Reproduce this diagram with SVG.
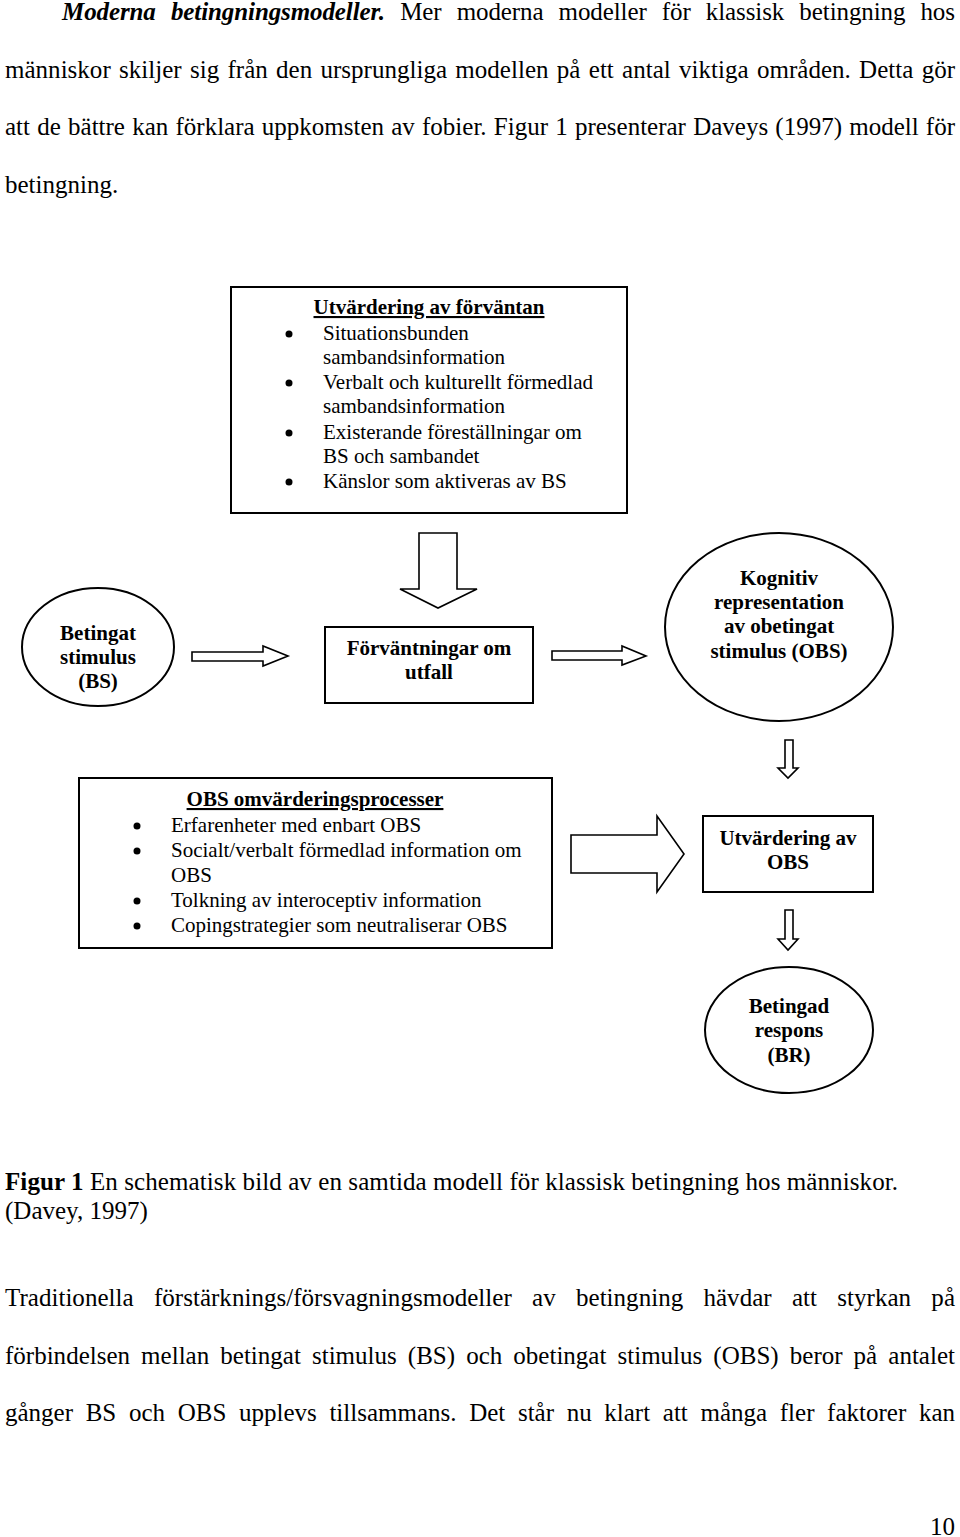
<svg xmlns="http://www.w3.org/2000/svg" width="960" height="1537" viewBox="0 0 960 1537">
<style>
  text { font-family: "Liberation Serif", "Times New Roman", serif; fill: #000; }
  .body { font-size: 25px; }
  .lbl { font-size: 21px; font-weight: bold; text-anchor: middle; }
  .item { font-size: 21px; }
  .ttl { font-size: 21px; font-weight: bold; text-anchor: middle; text-decoration: underline; }
  .shape { fill: #fff; stroke: #000; stroke-width: 2; }
  .arrow { fill: #fff; stroke: #000; stroke-width: 1.6; stroke-linejoin: miter; }
  .dot { fill: #000; }
</style>
<rect x="0" y="0" width="960" height="1537" fill="#fff"/>

<!-- Top paragraph -->
<g id="para-top">
  <text class="body" x="62" y="20" textLength="893" lengthAdjust="spacing" word-spacing="9"><tspan font-weight="bold" font-style="italic">Moderna betingningsmodeller.</tspan> Mer moderna modeller för klassisk betingning hos</text>
  <text class="body" x="5" y="78" textLength="950" lengthAdjust="spacing" word-spacing="2">människor skiljer sig från den ursprungliga modellen på ett antal viktiga områden. Detta gör</text>
  <text class="body" x="5" y="135" textLength="950" lengthAdjust="spacing" word-spacing="1">att de bättre kan förklara uppkomsten av fobier. Figur 1 presenterar Daveys (1997) modell för</text>
  <text class="body" x="5" y="193">betingning.</text>
</g>

<!-- Nodes -->
<g id="node-utvardering-forvantan">
  <rect class="shape" x="231" y="287" width="396" height="226"/>
  <text class="ttl" x="429" y="314">Utvärdering av förväntan</text>
  <circle class="dot" cx="289" cy="334" r="3.5"/>
  <text class="item" x="323" y="340">Situationsbunden</text>
  <text class="item" x="323" y="364">sambandsinformation</text>
  <circle class="dot" cx="289" cy="383" r="3.5"/>
  <text class="item" x="323" y="389">Verbalt och kulturellt förmedlad</text>
  <text class="item" x="323" y="413">sambandsinformation</text>
  <circle class="dot" cx="289" cy="433" r="3.5"/>
  <text class="item" x="323" y="439">Existerande föreställningar om</text>
  <text class="item" x="323" y="463">BS och sambandet</text>
  <circle class="dot" cx="289" cy="482" r="3.5"/>
  <text class="item" x="323" y="488">Känslor som aktiveras av BS</text>
</g>

<g id="node-betingat-stimulus">
  <ellipse class="shape" cx="98" cy="647" rx="76" ry="59"/>
  <text class="lbl" x="98" y="640">Betingat</text>
  <text class="lbl" x="98" y="664">stimulus</text>
  <text class="lbl" x="98" y="688">(BS)</text>
</g>

<g id="node-forvantningar">
  <rect class="shape" x="325" y="627" width="208" height="76"/>
  <text class="lbl" x="429" y="655">Förväntningar om</text>
  <text class="lbl" x="429" y="679">utfall</text>
</g>

<g id="node-kognitiv">
  <ellipse class="shape" cx="779" cy="627" rx="114" ry="94"/>
  <text class="lbl" x="779" y="585">Kognitiv</text>
  <text class="lbl" x="779" y="609">representation</text>
  <text class="lbl" x="779" y="633">av obetingat</text>
  <text class="lbl" x="779" y="658">stimulus (OBS)</text>
</g>

<g id="node-obs-omvardering">
  <rect class="shape" x="79" y="778" width="473" height="170"/>
  <text class="ttl" x="315" y="806">OBS omvärderingsprocesser</text>
  <circle class="dot" cx="137" cy="826" r="3.5"/>
  <text class="item" x="171" y="832">Erfarenheter med enbart OBS</text>
  <circle class="dot" cx="137" cy="851" r="3.5"/>
  <text class="item" x="171" y="857">Socialt/verbalt förmedlad information om</text>
  <text class="item" x="171" y="882">OBS</text>
  <circle class="dot" cx="137" cy="901" r="3.5"/>
  <text class="item" x="171" y="907">Tolkning av interoceptiv information</text>
  <circle class="dot" cx="137" cy="926" r="3.5"/>
  <text class="item" x="171" y="932">Copingstrategier som neutraliserar OBS</text>
</g>

<g id="node-utvardering-obs">
  <rect class="shape" x="703" y="816" width="170" height="76"/>
  <text class="lbl" x="788" y="845">Utvärdering av</text>
  <text class="lbl" x="788" y="869">OBS</text>
</g>

<g id="node-betingad-respons">
  <ellipse class="shape" cx="789" cy="1030" rx="84" ry="63"/>
  <text class="lbl" x="789" y="1013">Betingad</text>
  <text class="lbl" x="789" y="1037">respons</text>
  <text class="lbl" x="789" y="1062">(BR)</text>
</g>

<!-- Connectors -->
<g id="connectors">
  <polygon class="arrow" points="419,533 457,533 457,589 477,589 438,608 400,589 419,589"/>
  <polygon class="arrow" points="192,652 263,652 263,646 288,656 263,666 263,661 192,661"/>
  <polygon class="arrow" points="552,651 622,651 622,646 646,656 622,665 622,660 552,660"/>
  <polygon class="arrow" points="785,740 793,740 793,768 798,768 788,778 778,768 785,768"/>
  <polygon class="arrow" points="571,835 657,835 657,816 684,854 657,892 657,873 571,873"/>
  <polygon class="arrow" points="785,910 793,910 793,939 798,939 788,950 778,939 785,939"/>
</g>

<!-- Caption -->
<g id="caption">
  <text class="body" x="5" y="1190" textLength="893" lengthAdjust="spacing"><tspan font-weight="bold">Figur 1</tspan> En schematisk bild av en samtida modell för klassisk betingning hos människor.</text>
  <text class="body" x="5" y="1219">(Davey, 1997)</text>
</g>

<!-- Bottom paragraph -->
<g id="para-bottom">
  <text class="body" x="5" y="1306" textLength="950" lengthAdjust="spacing" word-spacing="14">Traditionella förstärknings/försvagningsmodeller av betingning hävdar att styrkan på</text>
  <text class="body" x="5" y="1364" textLength="950" lengthAdjust="spacing" word-spacing="4.8">förbindelsen mellan betingat stimulus (BS) och obetingat stimulus (OBS) beror på antalet</text>
  <text class="body" x="5" y="1421" textLength="950" lengthAdjust="spacing" word-spacing="6.4">gånger BS och OBS upplevs tillsammans. Det står nu klart att många fler faktorer kan</text>
  <text class="body" x="955" y="1535" text-anchor="end">10</text>
</g>
</svg>
